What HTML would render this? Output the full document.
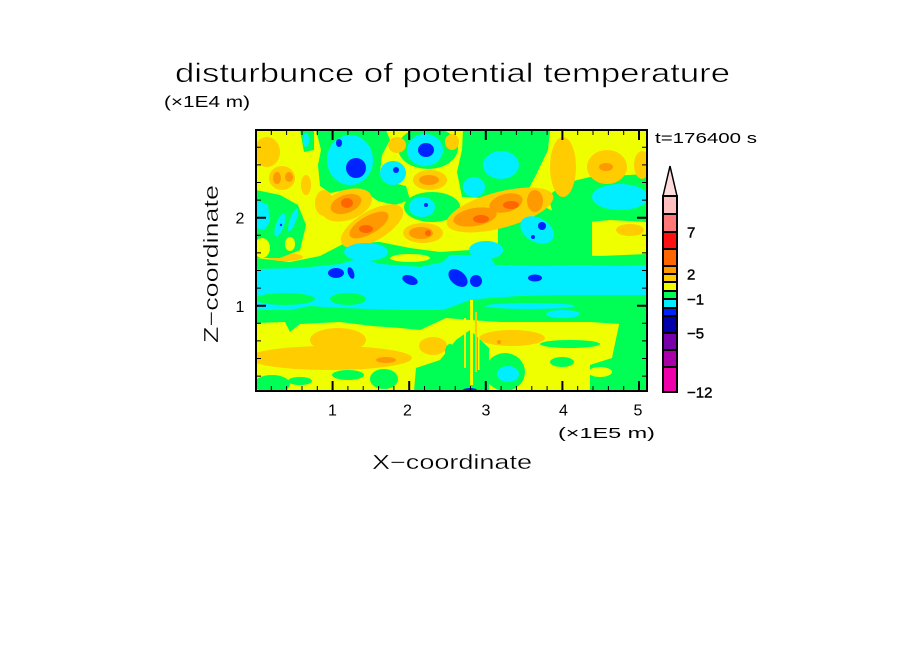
<!DOCTYPE html>
<html>
<head>
<meta charset="utf-8">
<style>
html,body{margin:0;padding:0;background:#fff;}
svg{display:block;}
text{font-family:"Liberation Sans",sans-serif;fill:#000;}
</style>
</head>
<body>
<svg width="904" height="654" viewBox="0 0 904 654" xmlns="http://www.w3.org/2000/svg">
<rect width="904" height="654" fill="#fff"/>
<defs><clipPath id="c"><rect x="256" y="130" width="391" height="261"/></clipPath></defs>
<g clip-path="url(#c)">
<rect x="256" y="130" width="391" height="261" fill="#f0ff00"/>

<!-- ===== lower green band ===== -->
<path fill="#00ff55" d="M256,258 L290,262 L320,256 L345,243 L380,242 L410,248 L440,252 L470,250 L500,252 L530,254 L560,255 L600,256 L647,254 L647,328 L620,324 L590,322 L560,322 L530,322 L500,322 L470,320 L446,318 L420,330 L400,328 L372,326 L340,322 L300,324 L290,332 L285,322 L256,323 Z"/>
<ellipse cx="285" cy="257" rx="18" ry="4" fill="#ffcc00"/>
<ellipse cx="410" cy="258" rx="20" ry="4" fill="#f0ff00"/>
<ellipse cx="540" cy="258" rx="15" ry="3" fill="#ffcc00"/>
<!-- cyan band -->
<path fill="#00eeff" d="M256,269 L300,268 L340,264 L360,258 L380,264 L420,267 L443,262 L450,255 L489,255 L495,265 L540,266 L580,265 L620,266 L647,265 L647,295 L600,295 L560,295 L520,296 L489,298 L470,300 L443,310 L400,310 L370,309 L340,308 L310,306 L290,310 L256,310 Z"/>
<ellipse cx="348" cy="299" rx="18" ry="6" fill="#00ff55"/>
<ellipse cx="285" cy="299" rx="30" ry="6" fill="#00ff55"/>
<ellipse cx="530" cy="306" rx="45" ry="3" fill="#00eeff"/>
<ellipse cx="563" cy="314" rx="17" ry="4" fill="#00eeff"/>
<!-- blue lower -->
<ellipse cx="336" cy="273" rx="8" ry="5" fill="#0022ff"/>
<ellipse cx="351" cy="273" rx="3" ry="6" transform="rotate(-20 351 273)" fill="#0022ff"/>
<ellipse cx="410" cy="280" rx="8" ry="4.5" transform="rotate(20 410 280)" fill="#0022ff"/>
<ellipse cx="458" cy="278" rx="11" ry="7" transform="rotate(40 458 278)" fill="#0022ff"/>
<ellipse cx="476" cy="281" rx="6" ry="6" fill="#0022ff"/>
<ellipse cx="535" cy="278" rx="7" ry="3.5" fill="#0022ff"/>

<!-- gold lower -->
<ellipse cx="330" cy="358" rx="82" ry="12" fill="#ffcc00"/>
<ellipse cx="338" cy="340" rx="28" ry="12" fill="#ffcc00"/>
<ellipse cx="386" cy="360" rx="10" ry="3" fill="#ff9900"/>
<ellipse cx="433" cy="346" rx="14" ry="9" fill="#ffcc00"/>
<ellipse cx="512" cy="338" rx="33" ry="8" fill="#ffcc00"/>
<ellipse cx="499" cy="342" rx="2" ry="2" fill="#ff9900"/>
<ellipse cx="633" cy="362" rx="8" ry="5" fill="#ffcc00"/>

<!-- green lower patches -->
<ellipse cx="272" cy="384" rx="18" ry="9" fill="#00ff55"/>
<ellipse cx="300" cy="381" rx="12" ry="4" fill="#00ff55"/>
<ellipse cx="348" cy="375" rx="16" ry="5" fill="#00ff55"/>
<ellipse cx="384" cy="379" rx="14" ry="10" fill="#00ff55"/>
<path fill="#00ff55" d="M416,368 L440,360 L456,340 L470,330 L489,348 L489,391 L414,391 Z"/>
<ellipse cx="505" cy="372" rx="20" ry="19" fill="#00ff55"/>
<ellipse cx="508" cy="374" rx="11" ry="8" fill="#00eeff"/>
<path fill="#00ff55" d="M590,365 L612,358 L620,320 L647,318 L647,391 L590,391 Z"/>
<ellipse cx="600" cy="372" rx="12" ry="5" fill="#f0ff00"/>
<ellipse cx="570" cy="344" rx="30" ry="4" fill="#00ff55"/>
<ellipse cx="562" cy="362" rx="12" ry="5" fill="#00ff55"/>
<ellipse cx="450" cy="352" rx="5" ry="8" fill="#00ff55"/>
<rect x="470" y="300" width="3" height="85" fill="#f0ff00"/>
<rect x="475" y="312" width="2" height="60" fill="#ffcc00"/>
<rect x="464" y="318" width="2" height="50" fill="#f0ff00"/>
<rect x="478" y="330" width="1.5" height="40" fill="#f0ff00"/>
<ellipse cx="470" cy="390" rx="7" ry="2" fill="#0022ff"/>

<!-- ===== upper green ===== -->
<path fill="#00ff55" d="M316,130 L386,130 L390,140 L382,155 L380,172 L388,182 L406,186 L410,200 L395,205 L378,201 L365,192 L345,190 L330,193 L320,186 L318,165 L321,150 Z"/>
<path fill="#00ff55" d="M300,130 L314,130 L314,150 L304,152 Z"/>
<ellipse cx="428" cy="148" rx="30" ry="21" fill="#00ff55"/>
<path fill="#00ff55" d="M463,130 L550,130 L548,150 L536,175 L528,190 L505,191 L482,198 L462,197 L457,172 L462,150 Z"/>
<ellipse cx="432" cy="207" rx="28" ry="15" fill="#00ff55"/>
<path fill="#00ff55" d="M548,196 L565,183 L590,177 L647,174 L647,222 L610,220 L590,222 L570,224 L553,214 Z"/>
<path fill="#00ff55" d="M498,228 L520,212 L545,207 L566,218 L592,222 L592,262 L498,262 Z"/>
<path fill="#00ff55" d="M256,190 L280,195 L298,205 L306,225 L300,250 L280,258 L256,258 Z"/>
<ellipse cx="262" cy="248" rx="8" ry="10" fill="#f0ff00"/>
<ellipse cx="290" cy="244" rx="5" ry="7" fill="#f0ff00"/>

<!-- ===== upper gold/orange ===== -->
<ellipse cx="267" cy="152" rx="13" ry="15" fill="#ffcc00"/>
<ellipse cx="282" cy="178" rx="13" ry="12" fill="#ffcc00"/>
<ellipse cx="277" cy="178" rx="4" ry="6" fill="#ff9900"/>
<ellipse cx="289" cy="177" rx="4" ry="5" fill="#ff9900"/>
<ellipse cx="306" cy="185" rx="5" ry="10" fill="#ffcc00"/>
<ellipse cx="324" cy="203" rx="9" ry="13" fill="#ffcc00"/>
<ellipse cx="347" cy="205" rx="26" ry="15" transform="rotate(-20 347 205)" fill="#ffcc00"/>
<ellipse cx="346" cy="204" rx="16" ry="9" transform="rotate(-20 346 204)" fill="#ff9900"/>
<ellipse cx="347" cy="203" rx="6" ry="5" fill="#ff6600"/>
<ellipse cx="372" cy="226" rx="35" ry="15" transform="rotate(-30 372 226)" fill="#ffcc00"/>
<ellipse cx="369" cy="225" rx="22" ry="9" transform="rotate(-30 369 225)" fill="#ff9900"/>
<ellipse cx="366" cy="229" rx="7" ry="4" fill="#ff6600"/>
<ellipse cx="397" cy="145" rx="9" ry="8" fill="#ffcc00"/>
<ellipse cx="430" cy="180" rx="17" ry="10" fill="#ffcc00"/>
<ellipse cx="429" cy="180" rx="10" ry="5" fill="#ff9900"/>
<ellipse cx="423" cy="233" rx="20" ry="10" fill="#ffcc00"/>
<ellipse cx="421" cy="233" rx="12" ry="6" fill="#ff9900"/>
<ellipse cx="428" cy="233" rx="3" ry="3" fill="#ff6600"/>
<ellipse cx="452" cy="142" rx="7" ry="8" fill="#ffcc00"/>
<ellipse cx="500" cy="210" rx="55" ry="18" transform="rotate(-15 500 210)" fill="#ffcc00"/>
<ellipse cx="475" cy="217" rx="22" ry="9" transform="rotate(-10 475 217)" fill="#ff9900"/>
<ellipse cx="506" cy="203" rx="17" ry="9" transform="rotate(-15 506 203)" fill="#ff9900"/>
<ellipse cx="535" cy="201" rx="8" ry="11" fill="#ff9900"/>
<ellipse cx="481" cy="219" rx="8" ry="4" fill="#ff6600"/>
<ellipse cx="511" cy="205" rx="8" ry="4" fill="#ff6600"/>
<ellipse cx="563" cy="167" rx="13" ry="30" fill="#ffcc00"/>
<ellipse cx="607" cy="167" rx="20" ry="17" fill="#ffcc00"/>
<ellipse cx="606" cy="167" rx="7" ry="4" fill="#ff9900"/>
<ellipse cx="642" cy="165" rx="8" ry="14" fill="#ffcc00"/>
<ellipse cx="630" cy="230" rx="14" ry="6" fill="#ffcc00"/>

<!-- ===== upper cyan ===== -->
<path fill="#00eeff" d="M256,200 L268,205 L270,222 L264,230 L256,228 Z"/>
<ellipse cx="280" cy="225" rx="4" ry="12" transform="rotate(20 280 225)" fill="#00eeff"/>
<ellipse cx="293" cy="220" rx="3" ry="12" transform="rotate(20 293 220)" fill="#00eeff"/>
<ellipse cx="306" cy="140" rx="3" ry="7" fill="#00eeff"/>
<ellipse cx="350" cy="160" rx="23" ry="25" fill="#00eeff"/>
<ellipse cx="393" cy="173" rx="13" ry="12" fill="#00eeff"/>
<ellipse cx="425" cy="150" rx="18" ry="16" fill="#00eeff"/>
<ellipse cx="501" cy="165" rx="18" ry="14" fill="#00eeff"/>
<ellipse cx="474" cy="187" rx="11" ry="10" fill="#00eeff"/>
<ellipse cx="422" cy="207" rx="13" ry="10" fill="#00eeff"/>
<ellipse cx="620" cy="197" rx="28" ry="13" fill="#00eeff"/>
<ellipse cx="537" cy="230" rx="18" ry="12" transform="rotate(30 537 230)" fill="#00eeff"/>
<ellipse cx="486" cy="250" rx="17" ry="9" fill="#00eeff"/>
<ellipse cx="366" cy="252" rx="22" ry="9" fill="#00eeff"/>
<!-- upper blue -->
<ellipse cx="339" cy="143" rx="3" ry="4" fill="#0022ff"/>
<ellipse cx="356" cy="168" rx="10" ry="10" fill="#0022ff"/>
<ellipse cx="426" cy="150" rx="8" ry="7" fill="#0022ff"/>
<ellipse cx="396" cy="170" rx="3" ry="3" fill="#0022ff"/>
<circle cx="426" cy="205" r="2" fill="#0022ff"/>
<ellipse cx="542" cy="226" rx="4" ry="4" fill="#0022ff"/>
<circle cx="533" cy="237" r="2" fill="#0022ff"/>
<circle cx="281" cy="225" r="1.2" fill="#0022ff"/>
</g>

<!-- frame -->
<rect x="256" y="130" width="391" height="261" fill="none" stroke="#000" stroke-width="2"/>
<!-- minor ticks -->
<path stroke="#000" stroke-width="1" fill="none" d="
M271.3,391v-5M286.6,391v-5M302,391v-5M317.3,391v-5M347.9,391v-5M363.2,391v-5M378.6,391v-5M393.9,391v-5M424.5,391v-5M439.8,391v-5M455.2,391v-5M470.5,391v-5M501.1,391v-5M516.4,391v-5M531.8,391v-5M547.1,391v-5M577.7,391v-5M593,391v-5M608.4,391v-5M623.7,391v-5
M271.3,130v5M286.6,130v5M302,130v5M317.3,130v5M347.9,130v5M363.2,130v5M378.6,130v5M393.9,130v5M424.5,130v5M439.8,130v5M455.2,130v5M470.5,130v5M501.1,130v5M516.4,130v5M531.8,130v5M547.1,130v5M577.7,130v5M593,130v5M608.4,130v5M623.7,130v5
M256,376.1h5M256,358.5h5M256,340.9h5M256,323.3h5M256,288.1h5M256,270.5h5M256,252.9h5M256,235.3h5M256,200.1h5M256,182.5h5M256,164.9h5M256,147.3h5
M647,376.1h-5M647,358.5h-5M647,340.9h-5M647,323.3h-5M647,288.1h-5M647,270.5h-5M647,252.9h-5M647,235.3h-5M647,200.1h-5M647,182.5h-5M647,164.9h-5M647,147.3h-5"/>
<!-- major ticks -->
<path stroke="#000" stroke-width="2" fill="none" d="
M332.6,391v-10M409.2,391v-10M485.8,391v-10M562.4,391v-10M639,391v-10
M332.6,130v10M409.2,130v10M485.8,130v10M562.4,130v10M639,130v10
M256,305.7h10M256,217.7h10M647,305.7h-10M647,217.7h-10"/>

<!-- tick labels -->
<g font-size="16" text-anchor="middle">
<text x="332.5" y="415.5">1</text>
<text x="407.5" y="415.5">2</text>
<text x="486" y="415.5">3</text>
<text x="563.5" y="415.5">4</text>
<text x="638" y="415.5">5</text>
<text x="240" y="223.5">2</text>
<text x="240" y="312">1</text>
</g>

<!-- titles -->
<text x="175" y="82" font-size="27" textLength="555" lengthAdjust="spacingAndGlyphs" stroke="#fff" stroke-width="0.5">disturbunce of potential temperature</text>
<text x="164" y="107" font-size="16" textLength="86" lengthAdjust="spacingAndGlyphs">(×1E4 m)</text>
<text x="655" y="143" font-size="15" textLength="102" lengthAdjust="spacingAndGlyphs">t=176400 s</text>
<text x="558" y="438" font-size="15" textLength="97" lengthAdjust="spacingAndGlyphs">(×1E5 m)</text>
<text x="372" y="469" font-size="20" textLength="160" lengthAdjust="spacingAndGlyphs" stroke="#fff" stroke-width="0.3">X−coordinate</text>
<text transform="translate(218,343) rotate(-90)" font-size="20" textLength="158" lengthAdjust="spacingAndGlyphs" stroke="#fff" stroke-width="0.3">Z−coordinate</text>

<!-- colorbar -->
<g stroke="#000" stroke-width="2">
<path d="M663,196 L670,166 L677,196 Z" fill="#ffdcdc" stroke-width="1.5"/>
<rect x="663" y="196" width="14" height="18" fill="#ffbfbf"/>
<rect x="663" y="214" width="14" height="18" fill="#ff7777"/>
<rect x="663" y="232" width="14" height="17" fill="#ff1111"/>
<rect x="663" y="249" width="14" height="17" fill="#ff6600"/>
<rect x="663" y="266" width="14" height="8" fill="#ff9900"/>
<rect x="663" y="274" width="14" height="8" fill="#ffcc00"/>
<rect x="663" y="282" width="14" height="9" fill="#f0ff00"/>
<rect x="663" y="291" width="14" height="8" fill="#00ff55"/>
<rect x="663" y="299" width="14" height="9" fill="#00eeff"/>
<rect x="663" y="308" width="14" height="8" fill="#0022ff"/>
<rect x="663" y="316" width="14" height="17" fill="#0000aa"/>
<rect x="663" y="333" width="14" height="17" fill="#7700aa"/>
<rect x="663" y="350" width="14" height="17" fill="#aa00aa"/>
<rect x="663" y="367" width="14" height="25" fill="#ee00aa"/>
</g>
<g font-size="15" stroke="#000" stroke-width="0.4">
<text x="687" y="237.5">7</text>
<text x="687" y="279.5">2</text>
<text x="687" y="304.5">−1</text>
<text x="687" y="338.5">−5</text>
<text x="687" y="397.5">−12</text>
</g>
</svg>
</body>
</html>
